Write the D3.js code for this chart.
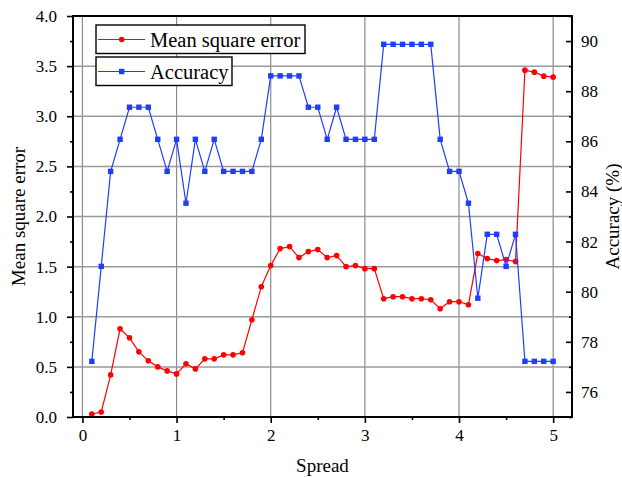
<!DOCTYPE html>
<html>
<head>
<meta charset="utf-8">
<script src="https://cdn.jsdelivr.net/npm/d3@7"></script>
<style>
  body { margin: 0; background: #fff; }
</style>
</head>
<body>
<div id="chart"></div>
<script>
const w = 622;
const h = 477;
const m = { left: 73, top: 16, right: 50, bottom: 60 };
const serif = "'Liberation Serif', 'Times New Roman', 'DejaVu Serif', serif";

// spread values (x)
const spread = [0.1, 0.2, 0.3, 0.4, 0.5, 0.6, 0.7, 0.8, 0.9, 1.0,
                1.1, 1.2, 1.3, 1.4, 1.5, 1.6, 1.7, 1.8, 1.9, 2.0,
                2.1, 2.2, 2.3, 2.4, 2.5, 2.6, 2.7, 2.8, 2.9, 3.0,
                3.1, 3.2, 3.3, 3.4, 3.5, 3.6, 3.7, 3.8, 3.9, 4.0,
                4.1, 4.2, 4.3, 4.4, 4.5, 4.6, 4.7, 4.8, 4.9, 5.0];

const mse = [0.03, 0.05, 0.42, 0.88, 0.79, 0.65, 0.56, 0.50, 0.46, 0.43,
             0.53, 0.48, 0.58, 0.58, 0.62, 0.62, 0.64, 0.97, 1.30, 1.51,
             1.68, 1.70, 1.59, 1.65, 1.67, 1.59, 1.61, 1.50, 1.51, 1.48,
             1.48, 1.18, 1.20, 1.20, 1.18, 1.18, 1.17, 1.08, 1.15, 1.15,
             1.12, 1.63, 1.58, 1.56, 1.57, 1.55, 3.46, 3.44, 3.40, 3.39];

const accuracy = [77.22, 81.01, 84.80, 86.08, 87.36, 87.36, 87.36, 86.08, 84.80, 86.08,
                  83.53, 86.08, 84.80, 86.08, 84.80, 84.80, 84.80, 84.80, 86.08, 88.61,
                  88.61, 88.61, 88.61, 87.36, 87.36, 86.08, 87.36, 86.08, 86.08, 86.08,
                  86.08, 89.87, 89.87, 89.87, 89.87, 89.87, 89.87, 86.08, 84.80, 84.80,
                  83.53, 79.74, 82.29, 82.29, 81.01, 82.29, 77.22, 77.22, 77.22, 77.22];

const xTicks = [0, 1, 2, 3, 4, 5];
const xMinor = [0.5, 1.5, 2.5, 3.5, 4.5];
const yTicks = [0, 0.5, 1.0, 1.5, 2.0, 2.5, 3.0, 3.5, 4.0];
const yMinor = [0.25, 0.75, 1.25, 1.75, 2.25, 2.75, 3.25, 3.75];
const y2Ticks = [76, 78, 80, 82, 84, 86, 88, 90];
const y2Minor = [75, 77, 79, 81, 83, 85, 87, 89, 91];

const red = "#ff0000";
const blue = "#1f3dff";

const x = d3.scaleLinear().domain([-0.1, 5.2]).range([m.left, w - m.right]);
const y = d3.scaleLinear().domain([0, 4]).range([h - m.bottom, m.top]);
const y2 = d3.scaleLinear().domain([75, 91]).range([h - m.bottom, m.top]);

const svg = d3.select("#chart").append("svg")
  .attr("width", w).attr("height", h);

// grid
svg.append("g").selectAll("line").data(xTicks).enter().append("line")
  .attr("x1", d => x(d)).attr("x2", d => x(d))
  .attr("y1", m.top).attr("y2", h - m.bottom)
  .attr("stroke", "#8c8c8c").attr("stroke-width", 1.2);
svg.append("g").selectAll("line").data(yTicks.slice(1, -1)).enter().append("line")
  .attr("x1", m.left).attr("x2", w - m.right)
  .attr("y1", d => y(d)).attr("y2", d => y(d))
  .attr("stroke", "#9a9a9a").attr("stroke-width", 1.5);

// series
const pts = spread.map((s, i) => ({ s: s, e: mse[i], a: accuracy[i] }));

svg.append("path").datum(pts)
  .attr("fill", "none").attr("stroke", red).attr("stroke-width", 1.2)
  .attr("d", d3.line().x(d => x(d.s)).y(d => y(d.e)));
svg.append("g").selectAll("circle").data(pts).enter().append("circle")
  .attr("cx", d => x(d.s)).attr("cy", d => y(d.e)).attr("r", 2.8)
  .attr("fill", red);

svg.append("path").datum(pts)
  .attr("fill", "none").attr("stroke", blue).attr("stroke-width", 1.2)
  .attr("d", d3.line().x(d => x(d.s)).y(d => y2(d.a)));
svg.append("g").selectAll("rect").data(pts).enter().append("rect")
  .attr("x", d => x(d.s) - 2.7).attr("y", d => y2(d.a) - 2.7)
  .attr("width", 5.4).attr("height", 5.4)
  .attr("fill", blue);

// axes
function styleAxis(g) {
  g.attr("font-family", serif);
  g.select(".domain").remove();
  g.selectAll(".tick line").attr("stroke", "#000").attr("stroke-width", 1.6);
  g.selectAll(".tick text").style("font-size", "17px").style("font-family", serif).attr("fill", "#000");
}

svg.append("g").attr("transform", `translate(0,${h - m.bottom})`)
  .call(d3.axisBottom(x).tickValues(xTicks).tickFormat(d3.format("d")).tickSize(6).tickPadding(6))
  .call(styleAxis);
svg.append("g").attr("transform", `translate(0,${h - m.bottom})`)
  .call(d3.axisBottom(x).tickValues(xMinor).tickFormat("").tickSize(3))
  .call(styleAxis);

svg.append("g").attr("transform", `translate(${m.left},0)`)
  .call(d3.axisLeft(y).tickValues(yTicks).tickFormat(d3.format(".1f")).tickSize(6).tickPadding(10))
  .call(styleAxis);
svg.append("g").attr("transform", `translate(${m.left},0)`)
  .call(d3.axisLeft(y).tickValues(yMinor).tickFormat("").tickSize(3))
  .call(styleAxis);

svg.append("g").attr("transform", `translate(${w - m.right},0)`)
  .call(d3.axisRight(y2).tickValues(y2Ticks).tickFormat(d3.format("d")).tickSize(-6).tickPadding(9))
  .call(styleAxis);
svg.append("g").attr("transform", `translate(${w - m.right},0)`)
  .call(d3.axisRight(y2).tickValues(y2Minor).tickFormat("").tickSize(-3))
  .call(styleAxis);

// frame
svg.append("rect")
  .attr("x", m.left).attr("y", m.top)
  .attr("width", w - m.left - m.right).attr("height", h - m.top - m.bottom)
  .attr("fill", "none").attr("stroke", "#000").attr("stroke-width", 2);

// axis titles
svg.append("text")
  .attr("x", (m.left + w - m.right) / 2).attr("y", 472)
  .attr("text-anchor", "middle").style("font-size", "19px").style("font-family", serif)
  .text("Spread");
svg.append("text")
  .attr("transform", `translate(25,${(m.top + h - m.bottom) / 2}) rotate(-90)`)
  .attr("text-anchor", "middle").style("font-size", "19px").style("font-family", serif)
  .text("Mean square error");
svg.append("text")
  .attr("transform", `translate(619,${(m.top + h - m.bottom) / 2}) rotate(-90)`)
  .attr("text-anchor", "middle").style("font-size", "19px").style("font-family", serif)
  .text("Accuracy (%)");

// legend
const legend = [
  { name: "Mean square error", color: red, shape: "circle", top: 25, right: 305 },
  { name: "Accuracy", color: blue, shape: "square", top: 57, right: 232 }
];
legend.forEach(l => {
  const g = svg.append("g");
  g.append("rect")
    .attr("x", 96).attr("y", l.top)
    .attr("width", l.right - 96).attr("height", 28.5)
    .attr("fill", "#fff").attr("stroke", "#000").attr("stroke-width", 1.4);
  const cy = l.top + 14.5;
  g.append("line")
    .attr("x1", 98).attr("x2", 145).attr("y1", cy).attr("y2", cy)
    .attr("stroke", l.color).attr("stroke-width", 1.2);
  if (l.shape === "circle") {
    g.append("circle").attr("cx", 121.7).attr("cy", cy).attr("r", 2.8).attr("fill", l.color);
  } else {
    g.append("rect").attr("x", 121.7 - 2.7).attr("y", cy - 2.7)
      .attr("width", 5.4).attr("height", 5.4).attr("fill", l.color);
  }
  g.append("text")
    .attr("x", 150).attr("y", cy + 7)
    .style("font-size", "20.5px").style("font-family", serif)
    .text(l.name);
});
</script>
</body>
</html>
